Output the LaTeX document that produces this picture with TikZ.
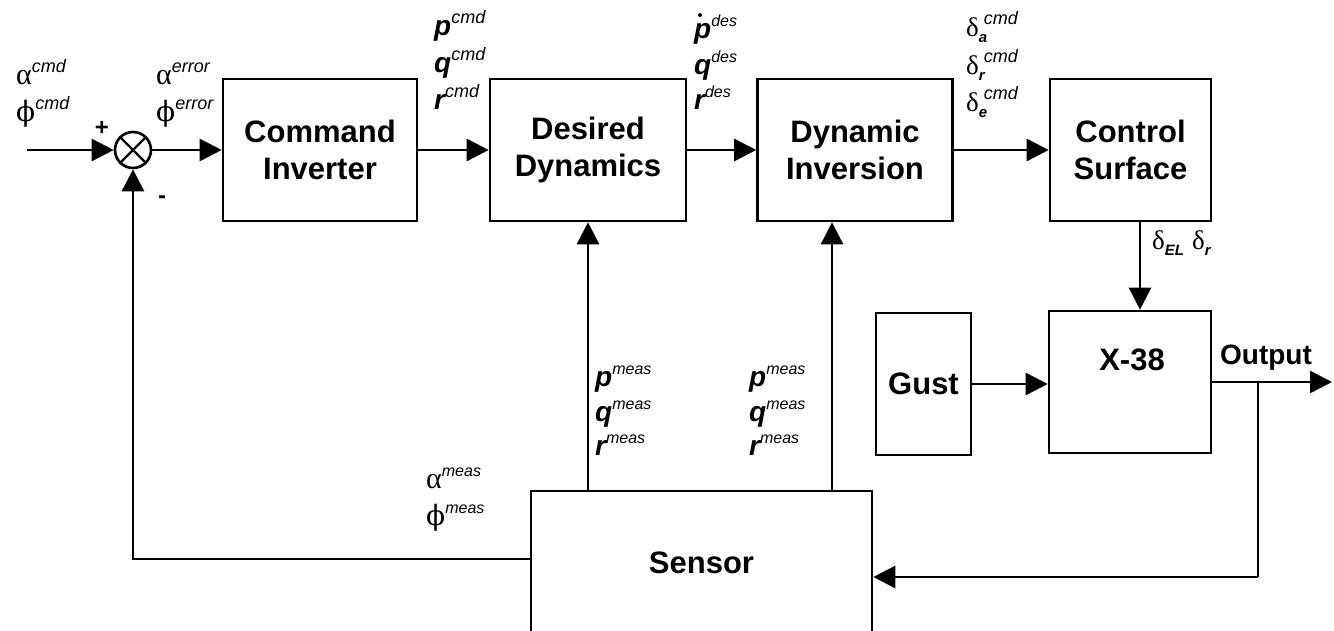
\documentclass[tikz,border=0pt]{standalone}
\usepackage{fontspec}
\setmainfont{Liberation Sans}
\newfontfamily\grk{Liberation Serif}
\newfontfamily\grkb{DejaVu Serif}
\usetikzlibrary{arrows.meta}

\newcommand{\bsz}{\fontsize{28}{28}\selectfont}
\newcommand{\gsz}{\fontsize{30}{30}\selectfont}
\newcommand{\spc}[1]{\raisebox{12pt}{\fontsize{18}{18}\selectfont\itshape #1}}
\newcommand{\spm}[1]{\raisebox{12pt}{\fontsize{16}{16}\selectfont\itshape #1}}
\newcommand{\sbs}[1]{\raisebox{-6pt}{\fontsize{15}{15}\selectfont\bfseries\itshape #1}}
\newcommand{\pv}[1]{{\bsz\bfseries\itshape #1}}
\newcommand{\alp}{{\gsz\grk α}}
\newcommand{\phv}{{\fontsize{28}{28}\selectfont\grkb ϕ}}
\newcommand{\dlt}{{\fontsize{27}{27}\selectfont\grk δ}}

\begin{document}
\begin{tikzpicture}[x=1pt,y=-1pt,
  blk/.style={draw, line width=2.6pt, font=\fontsize{31}{37}\selectfont\bfseries,
    align=center, inner sep=0pt, minimum height=142pt},
  con/.style={line width=2.6pt},
  arr/.style={con, -{Triangle[length=22pt,width=22pt]}},
  lab/.style={anchor=base west, inner sep=0pt},
  sgn/.style={inner sep=0pt, font=\fontsize{24}{24}\selectfont\bfseries}
]
\clip (0,0) rectangle (1334,631);
\fill[white] (0,0) rectangle (1334,631);

% blocks
\node[blk, minimum width=194pt] (ci) at (320,150) {Command\\Inverter};
\node[blk, minimum width=196pt] (dd) at (588,150) {Desired\\Dynamics};
\node[blk, minimum width=195pt] (di) at (855,150) {Dynamic\\Inversion};
\node[blk, minimum width=161pt] (cs) at (1130.5,150) {Control\\Surface};
\node[blk, minimum width=162pt] (x38) at (1130,382) {};
\node[inner sep=0pt, font=\fontsize{31}{37}\selectfont\bfseries] (x38t) at (1132,360) {X-38};
\node[blk, minimum width=95pt] (gust) at (923.5,384) {Gust};
\node[blk, minimum width=341pt, minimum height=144pt] (sen) at (701.5,563) {Sensor};

% summing junction
\node[circle, draw, line width=2.6pt, minimum size=36pt, inner sep=0pt] (sum) at (133,150) {};
\draw[line width=2.2pt] (sum.45) -- (sum.225) (sum.135) -- (sum.315);

% connectors
\coordinate (in) at (27,150);
\draw[arr] (in) -- (sum.west);
\draw[arr] (sum.east) -- (ci.west);
\draw[arr] (ci.east) -- (dd.west);
\draw[arr] (dd.east) -- (di.west);
\draw[arr] (di.east) -- (cs.west);
\coordinate (csd) at ([xshift=9.5pt]cs.south);
\draw[arr] (csd) -- (csd |- x38.north);
\draw[arr] (gust.east) -- (gust.east -| x38.west);
\coordinate (out) at (1332,382);
\draw[arr] (x38.east) -- (out);
\coordinate (br) at (1258,382);
\coordinate (fb) at (1258,577);
\draw[con] (br) -- (fb);
\draw[arr] (fb) -- (fb -| sen.east);
\draw[arr] ([yshift=4pt]sen.west) -| (sum.south);
\draw[arr] (sen.north -| dd.south) -- (dd.south);
\coordinate (dis) at ([xshift=-23pt]di.south);
\draw[arr] (sen.north -| dis) -- (dis);

% signs
\node[sgn] (plus) at (102,128) {+};
\node[sgn] (minus) at (162,200) {-};

% labels
\node[lab] (acmd) at (16,85) {\alp\spc{cmd}};
\node[lab] (fcmd) at (16,122) {\phv\spc{cmd}};
\node[lab] (aerr) at (156,85) {\alp\spc{error}};
\node[lab] (ferr) at (156,122) {\phv\spc{error}};

\node[lab] (pcmd) at (434,36) {\pv{p}\spc{cmd}};
\node[lab] (qcmd) at (434,73) {\pv{q}\spc{cmd}};
\node[lab] (rcmd) at (434,110) {\pv{r}\spc{cmd}};

\node[lab] (pdes) at (694,39) {\pv{p}\spm{des}};
\fill ([xshift=6pt,yshift=24pt]pdes.base west) circle (2pt);
\node[lab] (qdes) at (694,75) {\pv{q}\spm{des}};
\node[lab] (rdes) at (694,110) {\pv{r}\spm{des}};

\node[lab] (dacmd) at (966,37) {\dlt\makebox[5pt][l]{\sbs{a}}\spc{cmd}};
\node[lab] (drcmd) at (966,75) {\dlt\makebox[5pt][l]{\sbs{r}}\spc{cmd}};
\node[lab] (decmd) at (966,112) {\dlt\makebox[5pt][l]{\sbs{e}}\spc{cmd}};

\node[lab] (dout) at (1152,250) {\dlt\sbs{EL}\kern8pt\dlt\sbs{r}};

\node[lab] (pm1) at (595,386) {\pv{p}\spm{meas}};
\node[lab] (qm1) at (595,421) {\pv{q}\spm{meas}};
\node[lab] (rm1) at (595,455) {\pv{r}\spm{meas}};
\node[lab] (pm2) at (749,386) {\pv{p}\spm{meas}};
\node[lab] (qm2) at (749,421) {\pv{q}\spm{meas}};
\node[lab] (rm2) at (749,455) {\pv{r}\spm{meas}};

\node[lab] (ameas) at (426,488) {\alp\spm{meas}};
\node[lab] (fmeas) at (426,525) {\phv\spm{meas}};

\node[inner sep=0pt, font=\fontsize{28}{28}\selectfont\bfseries] (outl) at (1266,358) {Output};
\end{tikzpicture}
\end{document}
